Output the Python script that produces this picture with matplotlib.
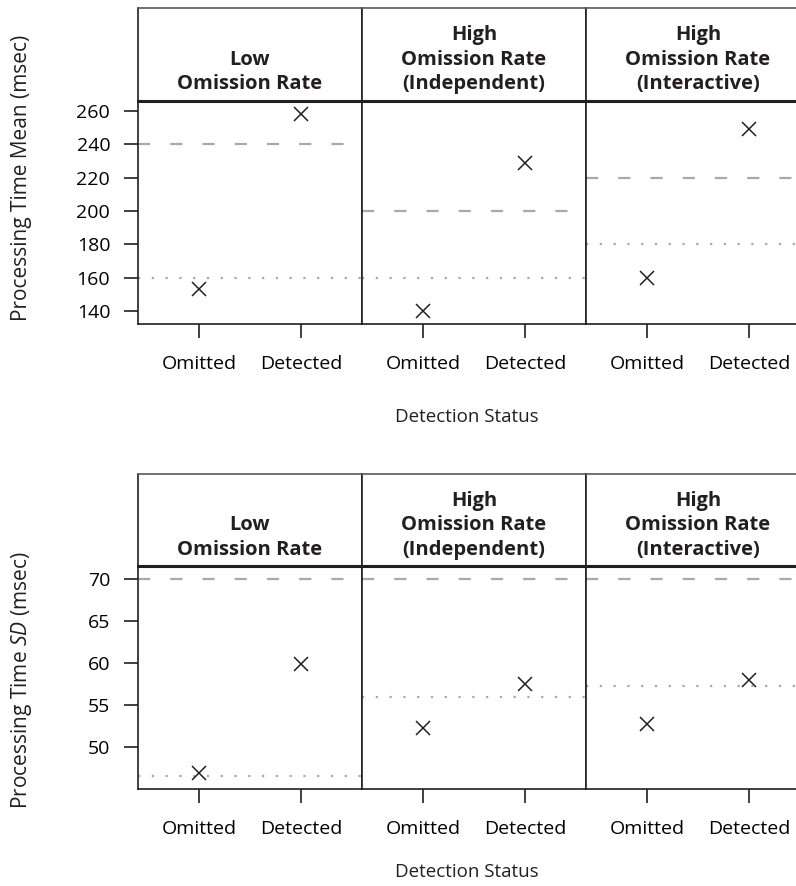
import numpy as np
import matplotlib
matplotlib.use("Agg")
import matplotlib.pyplot as plt

matplotlib.rcParams.update({
    'font.family': ['Open Sans', 'DejaVu Sans'],
    'mathtext.fontset': 'custom',
    'mathtext.rm': 'Open Sans',
    'mathtext.it': 'Open Sans:italic',
    'text.color': '#231f20',
})

groups = ['Low\nOmission Rate', 'High\nOmission Rate\n(Independent)', 'High\nOmission Rate\n(Interactive)']
status = ['Omitted', 'Detected']

mean_omitted = [153, 140, 160]
mean_detected = [258, 229, 249]
mean_dashed = [240, 200, 220]
mean_dotted = [160, 160, 180]

sd_omitted = [47.0, 52.3, 52.8]
sd_detected = [59.9, 57.6, 58.0]
sd_dashed = [70, 70, 70]
sd_dotted = [46.6, 56.0, 57.3]

W, H = 796, 886
INK = '#231f20'
GRAY = '#a7a9ac'

fig = plt.figure(figsize=(W / 100, H / 100), dpi=100)


def px_rect(x0, y0, x1, y1):
    return [x0 / W, 1 - y1 / H, (x1 - x0) / W, (y1 - y0) / H]


def draw_row(head_top, plot_top, plot_bot, omitted, detected, dashed, dotted,
             ylim, yticks, ylabel, label_y, xlabel_y):
    for i in range(3):
        x0 = 138 + 224 * i
        x1 = x0 + 224
        # header box
        hax = fig.add_axes(px_rect(x0, head_top, x1, plot_top))
        hax.set_xticks([])
        hax.set_yticks([])
        hax.spines['bottom'].set_visible(False)
        hax.spines['top'].set_color('#58595b')
        hax.spines['top'].set_linewidth(1.2)
        for s in ['left', 'right']:
            hax.spines[s].set_color(INK)
            hax.spines[s].set_linewidth(1.2)
        hax.text(0.5, 0.07, groups[i], ha='center', va='bottom', fontsize=14.5,
                 fontweight='bold', linespacing=1.3, transform=hax.transAxes)

        ax = fig.add_axes(px_rect(x0, plot_top, x1, plot_bot))
        ax.set_xlim(0.4, 2.6)
        ax.set_ylim(*ylim)
        ax.axhline(dashed[i], color=GRAY, lw=1.6, dashes=(5.5, 9))
        ax.axhline(dotted[i], color=GRAY, lw=1.6, dashes=(1, 5.2))
        ax.plot([1, 2], [omitted[i], detected[i]], ls='none', marker='x',
                color=INK, ms=10, mew=1.1)
        ax.set_xticks([1, 2])
        ax.set_xticklabels(status, fontsize=14)
        ax.tick_params(axis='x', length=10, width=1.2, color=INK, pad=12)
        for s in ['left', 'right', 'bottom']:
            ax.spines[s].set_color(INK)
            ax.spines[s].set_linewidth(1.2)
        ax.spines['top'].set_color(INK)
        ax.spines['top'].set_linewidth(2.2)
        if i == 0:
            ax.set_yticks(yticks)
            ax.tick_params(axis='y', length=10, width=1.2, color=INK, pad=10,
                           labelsize=14)
        else:
            ax.set_yticks([])

    fig.text(467 / W, 1 - xlabel_y / H, 'Detection Status', ha='center',
             va='center', fontsize=13.5)
    fig.text(22 / W, 1 - label_y / H, ylabel, rotation=90, ha='center',
             va='center', fontsize=15)


draw_row(8, 101, 324, mean_omitted, mean_detected, mean_dashed, mean_dotted,
         (132.2, 266), [140, 160, 180, 200, 220, 240, 260],
         'Processing Time Mean (msec)', 178, 417)
draw_row(474, 566, 789, sd_omitted, sd_detected, sd_dashed, sd_dotted,
         (45.05, 71.6), [50, 55, 60, 65, 70],
         'Processing Time $\\mathit{SD}$ (msec)', 680, 872)

fig.savefig('out.png', dpi=100)
